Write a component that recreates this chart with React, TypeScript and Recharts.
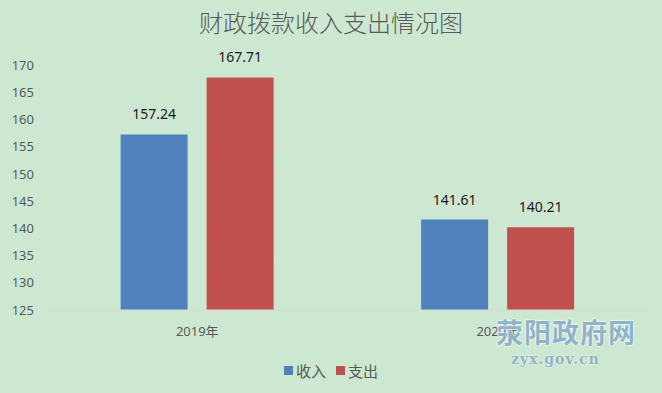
import React from "react";
import {
  BarChart,
  Bar,
  XAxis,
  YAxis,
  CartesianGrid,
  LabelList,
} from "recharts";

const categories = ["2019年", "2020年"];
const income = [157.24, 141.61];
const expense = [167.71, 140.21];
const yTicks = [125, 130, 135, 140, 145, 150, 155, 160, 165, 170];

const data = categories.map((name, i) => ({
  name,
  income: income[i],
  expense: expense[i],
}));

const FONT = '"Noto Sans", "Noto Sans CJK SC", sans-serif';

function LegendBox() {
  const items = [
    { label: "收入", color: "#4F81BD" },
    { label: "支出", color: "#C0504D" },
  ];
  return (
    <div
      style={{
        position: "absolute",
        top: 360,
        width: 662,
        display: "flex",
        justifyContent: "center",
        gap: 10,
        fontFamily: FONT,
        fontSize: 15,
        color: "#595959",
      }}
    >
      {items.map((it) => (
        <span key={it.label} style={{ display: "flex", alignItems: "center" }}>
          <span
            style={{
              width: 9,
              height: 9,
              background: it.color,
              marginRight: 3,
              display: "inline-block",
            }}
          />
          {it.label}
        </span>
      ))}
    </div>
  );
}

export default function App() {
  return (
    <div
      style={{
        position: "fixed",
        left: 0,
        top: 0,
        width: 662,
        height: 393,
        background: "#CDE8D0",
        overflow: "hidden",
      }}
    >
      <div
        style={{
          position: "absolute",
          top: 4,
          width: 662,
          textAlign: "center",
          fontFamily: '"Noto Sans CJK SC", serif',
          fontSize: 24,
          color: "#595959",
          fontWeight: 300,
        }}
      >
        财政拨款收入支出情况图
      </div>
      <BarChart
        width={662}
        height={393}
        data={data}
        margin={{ top: 65, right: 14, bottom: 53, left: 7 }}
        barGap={19}
        barCategoryGap="24.5%"
      >
        <CartesianGrid vertical={false} stroke="#D9DDD9" />
        <XAxis
          dataKey="name"
          height={30}
          axisLine={{ stroke: "#D9D9D9" }}
          tickLine={false}
          tickMargin={11}
          tick={{ fill: "#595959", fontSize: 13, fontFamily: FONT }}
        />
        <YAxis
          width={40}
          domain={[125, 170]}
          ticks={yTicks}
          axisLine={false}
          tickLine={false}
          tickMargin={7}
          allowDataOverflow
          tick={{ fill: "#595959", fontSize: 13, fontFamily: FONT }}
        />
        <Bar dataKey="income" name="收入" fill="#4F81BD" isAnimationActive={false}>
          <LabelList
            dataKey="income"
            position="top"
            offset={15}
            fill="#1a1a1a"
            fontSize={14}
            fontFamily={FONT}
          />
        </Bar>
        <Bar dataKey="expense" name="支出" fill="#C0504D" isAnimationActive={false}>
          <LabelList
            dataKey="expense"
            position="top"
            offset={15}
            fill="#1a1a1a"
            fontSize={14}
            fontFamily={FONT}
          />
        </Bar>
      </BarChart>
      <LegendBox />
      <div
        style={{
          position: "absolute",
          left: 496,
          top: 318,
          fontFamily: '"Noto Sans CJK SC", sans-serif',
          fontWeight: 700,
          fontSize: 27,
          letterSpacing: 1,
          color: "#8FB3C8",
          textShadow: "0 0 2px #ffffff, 0 0 2px #ffffff",
          lineHeight: 1,
        }}
      >
        荥阳政府网
      </div>
      <div
        style={{
          position: "absolute",
          left: 511,
          top: 352,
          fontFamily: '"DejaVu Serif", serif',
          fontWeight: 700,
          fontSize: 14,
          letterSpacing: 1,
          color: "#8FB3C8",
          textShadow: "0 0 2px #ffffff",
          lineHeight: 1,
        }}
      >
        zyx.gov.cn
      </div>
    </div>
  );
}
